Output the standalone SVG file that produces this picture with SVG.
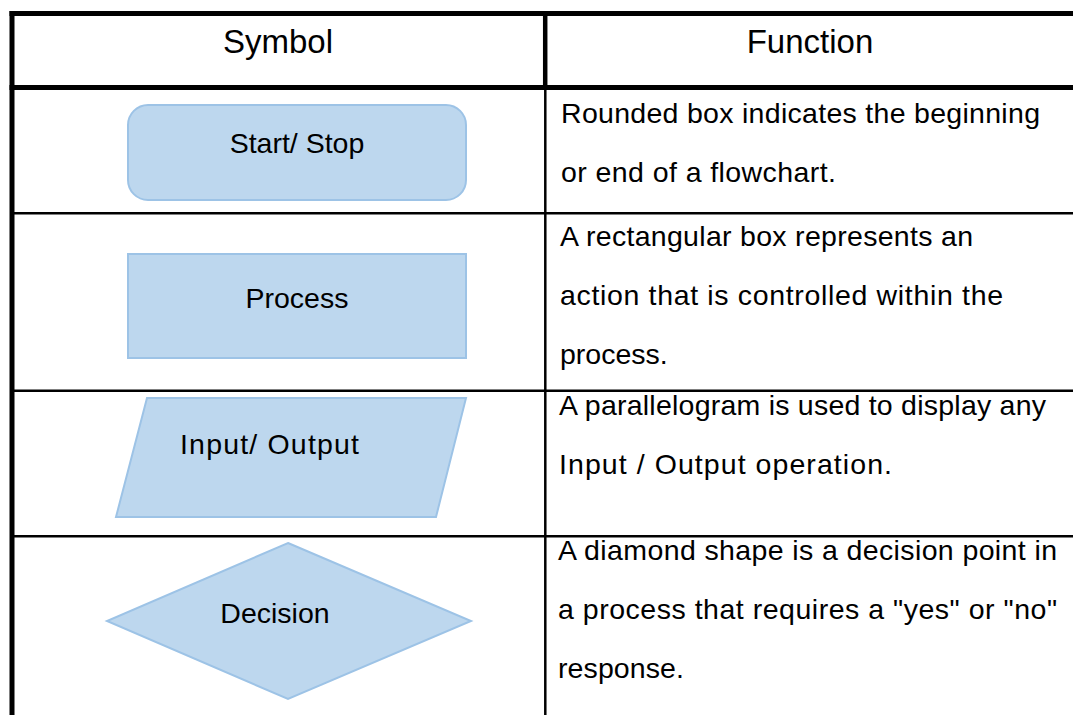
<svg xmlns="http://www.w3.org/2000/svg" width="1073" height="715" viewBox="0 0 1073 715">
  <style>
    .bg { fill: #ffffff; }
    .thick { stroke: #000; stroke-width: 5; fill: none; }
    .thin { stroke: #000; stroke-width: 2.5; fill: none; }
    .shape { fill: #BDD7EE; stroke: #9DC3E6; stroke-width: 2; }
    .head { font-family: "Liberation Sans", Arial, sans-serif; font-size: 33px; fill: #000; text-anchor: middle; }
    .label { font-family: "Liberation Sans", Arial, sans-serif; font-size: 28.5px; fill: #000; text-anchor: middle; }
    .desc { font-family: "Liberation Sans", Arial, sans-serif; font-size: 28.5px; fill: #000; }
  </style>
  <rect class="bg" x="0" y="0" width="1073" height="715"/>

  <!-- table grid -->
  <g id="grid">
    <line class="thick" x1="9.5" y1="13.5" x2="1073" y2="13.5"/>
    <line class="thick" x1="12" y1="11" x2="12" y2="715"/>
    <line class="thick" x1="9.5" y1="87.5" x2="1073" y2="87.5"/>
    <line x1="545.2" y1="11" x2="545.2" y2="90" stroke="#000" stroke-width="4.5"/>
    <line class="thin" x1="545.3" y1="90" x2="545.3" y2="715"/>
    <line class="thin" x1="12" y1="213.3" x2="1073" y2="213.3"/>
    <line class="thin" x1="12" y1="390.8" x2="1073" y2="390.8"/>
    <line class="thin" x1="12" y1="536.3" x2="1073" y2="536.3"/>
  </g>

  <!-- column headings -->
  <g id="header">
    <text class="head" x="278" y="53">Symbol</text>
    <text class="head" x="810" y="53">Function</text>
  </g>

  <!-- terminal symbol -->
  <g id="node-start-stop">
    <rect class="shape" x="128" y="105" width="338" height="95" rx="20" ry="20"/>
    <text class="label" x="297" y="153">Start/ Stop</text>
  </g>
  <g id="desc-start-stop">
    <text class="desc" x="561" y="123" textLength="479">Rounded box indicates the beginning</text>
    <text class="desc" x="561" y="182" textLength="275">or end of a flowchart.</text>
  </g>

  <!-- process symbol -->
  <g id="node-process">
    <rect class="shape" x="128" y="254" width="338" height="104"/>
    <text class="label" x="297" y="308">Process</text>
  </g>
  <g id="desc-process">
    <text class="desc" x="560" y="246" textLength="413">A rectangular box represents an</text>
    <text class="desc" x="560" y="305" textLength="443">action that is controlled within the</text>
    <text class="desc" x="560" y="364">process.</text>
  </g>

  <!-- input / output symbol -->
  <g id="node-io">
    <polygon class="shape" points="147,398 466,398 436,517 116,517"/>
    <text class="label" x="269.5" y="454" textLength="179">Input/ Output</text>
  </g>
  <g id="desc-io">
    <text class="desc" x="559" y="415" textLength="487">A parallelogram is used to display any</text>
    <text class="desc" x="559" y="474" textLength="333">Input / Output operation.</text>
  </g>

  <!-- decision symbol -->
  <g id="node-decision">
    <polygon class="shape" points="288,543 471,621 288,699 107,621"/>
    <text class="label" x="275" y="623">Decision</text>
  </g>
  <g id="desc-decision">
    <text class="desc" x="558" y="560" textLength="499">A diamond shape is a decision point in</text>
    <text class="desc" x="558" y="619" textLength="499">a process that requires a "yes" or "no"</text>
    <text class="desc" x="558" y="678" textLength="126">response.</text>
  </g>
</svg>
